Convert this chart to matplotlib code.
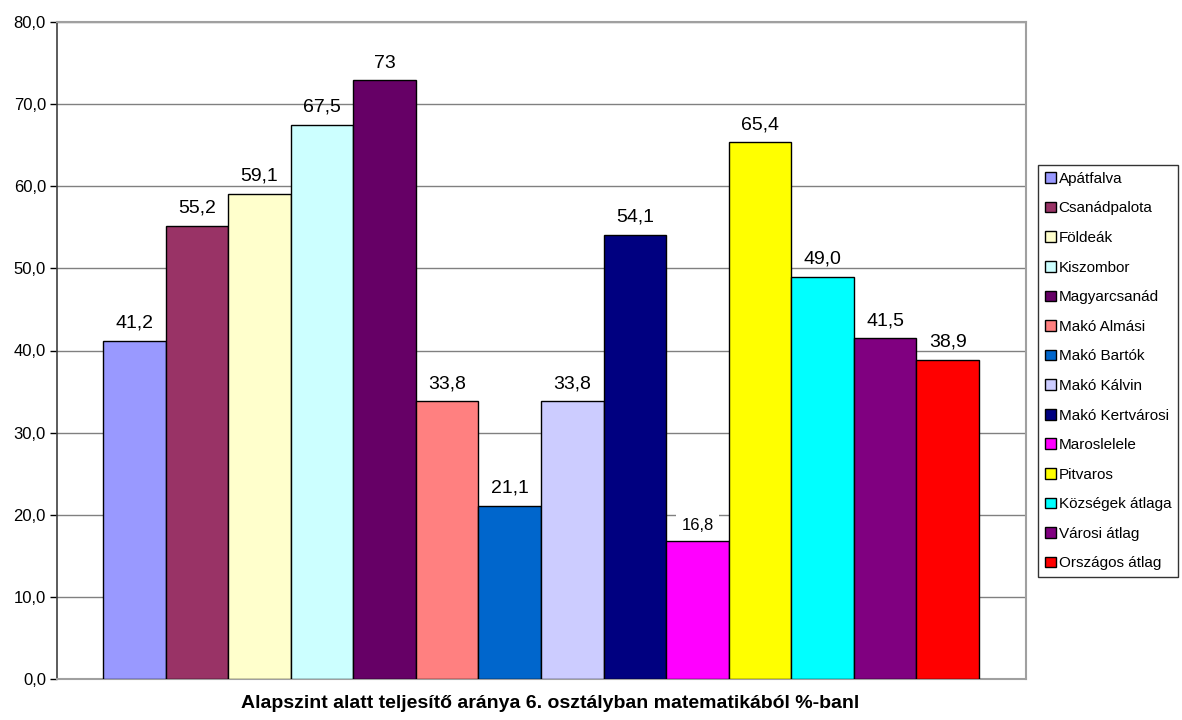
import matplotlib
matplotlib.use("Agg")
import matplotlib.pyplot as plt
from matplotlib.patches import Patch

plt.rcParams["font.family"] = ["Liberation Sans", "DejaVu Sans"]

names = ["Apátfalva", "Csanádpalota", "Földeák", "Kiszombor", "Magyarcsanád",
         "Makó Almási", "Makó Bartók", "Makó Kálvin", "Makó Kertvárosi",
         "Maroslelele", "Pitvaros", "Községek átlaga", "Városi átlag",
         "Országos átlag"]
values = [41.2, 55.2, 59.1, 67.5, 72.9, 33.8, 21.1, 33.8, 54.1, 16.8,
          65.4, 49.0, 41.5, 38.9]
labels = ["41,2", "55,2", "59,1", "67,5", "73", "33,8", "21,1", "33,8",
          "54,1", "16,8", "65,4", "49,0", "41,5", "38,9"]
colors = ["#9999FF", "#993366", "#FFFFCC", "#CCFFFF", "#660066", "#FF8080",
          "#0066CC", "#CCCCFF", "#000080", "#FF00FF", "#FFFF00", "#00FFFF",
          "#800080", "#FF0000"]
yticks = [0, 10, 20, 30, 40, 50, 60, 70, 80]
title = "Alapszint alatt teljesítő aránya 6. osztályban matematikából %-banl"

fig = plt.figure(figsize=(11.82, 7.2), dpi=100)
ax = fig.add_axes([57 / 1182, 41 / 720, 969 / 1182, 657 / 720])

x = range(len(values))
ax.bar(x, values, width=1.0, color=colors, edgecolor="black", linewidth=1.0,
       zorder=3)
for i, (v, lab) in enumerate(zip(values, labels)):
    if lab == "16,8":
        # this one sits in a white box, smaller, like the original
        ax.text(i, v + 1.4, lab, ha="center", va="baseline", fontsize=12,
                zorder=4, bbox=dict(facecolor="white", edgecolor="none",
                                    boxstyle="square,pad=0.35"))
    else:
        ax.text(i, v + 1.55, lab, ha="center", va="baseline", fontsize=14,
                zorder=4)

ax.set_xlim(-1.235, len(values) - 0.5 + 0.75)
ax.set_ylim(0, 80)
ax.set_yticks(yticks)
ax.set_yticklabels([f"{t:.1f}".replace(".", ",") for t in yticks],
                   fontsize=12)
ax.set_xticks([])
ax.yaxis.grid(True, color="#808080", linewidth=1.0, zorder=0)
ax.tick_params(axis="y", direction="out", length=5, width=1, color="black",
               pad=3)
for side in ["top", "right", "bottom"]:
    ax.spines[side].set_color("#A0A0A0")
    ax.spines[side].set_linewidth(1.5)
ax.spines["left"].set_color("#404040")
ax.spines["left"].set_linewidth(1.2)

handles = [Patch(facecolor=c, edgecolor="black", linewidth=1.0) for c in colors]
leg = fig.legend(handles, names, loc="upper left",
                 bbox_to_anchor=(1038 / 1182, 1 - 165 / 720), fontsize=11,
                 frameon=True, fancybox=False, edgecolor="black",
                 handlelength=0.7, handleheight=0.7, handletextpad=0.2,
                 labelspacing=1.02, borderpad=0.45, borderaxespad=0)
leg.get_frame().set_linewidth(1.0)

fig.text(550 / 1182, 1 - 703 / 720, title, ha="center", va="center",
         fontsize=14, fontweight="bold")

fig.savefig("out.png", dpi=100)
